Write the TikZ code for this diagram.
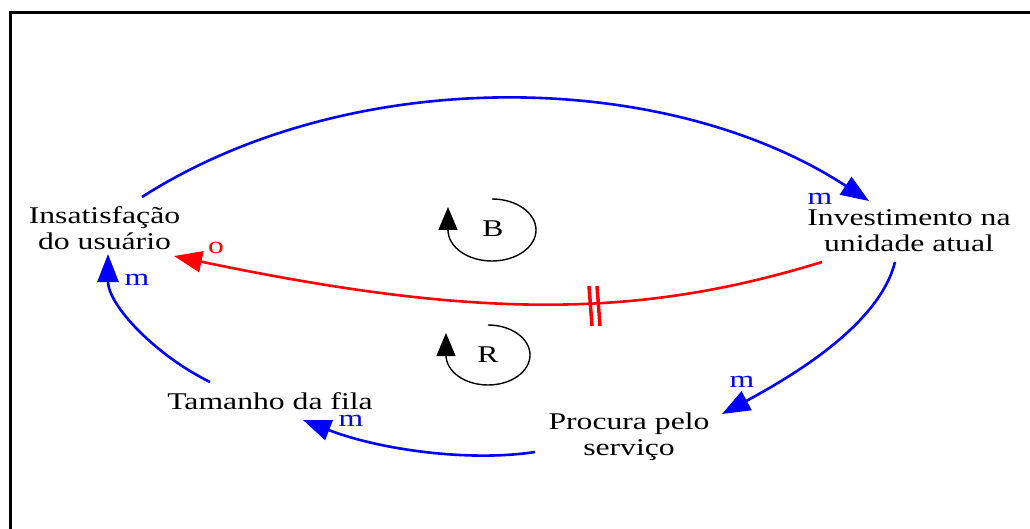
\documentclass[tikz,border=0pt]{standalone}
\usepackage{fontspec}
\newfontfamily\wide[FakeStretch=1.32]{Liberation Serif}
\usetikzlibrary{arrows.meta}
\definecolor{cldblue}{RGB}{0,0,255}
\definecolor{cldred}{RGB}{255,0,0}
\begin{document}
\begin{tikzpicture}[x=1pt,y=-1pt,
  var/.style={align=center,inner sep=0pt,anchor=base,font=\wide\fontsize{24}{26}\selectfont},
  pol/.style={inner sep=0pt,font=\wide\fontsize{24}{26}\selectfont},
  link/.style={line width=2.6pt,-{Triangle[length=28pt,width=21pt]}},
  loopline/.style={line width=1.4pt},
  looptip/.style={-{Triangle[length=23pt,width=19pt]},line width=1.4pt}]
\useasboundingbox (0,0) rectangle (1030,529);
% frame
\draw[line width=3pt] (10,540) -- (10,13) -- (1040,13);
% variables
\node[var] (a) at (104.5,250) {Insatisfação\\do usuário};
\node[var] (b) at (909,252) {Investimento na\\unidade atual};
\node[var] (c) at (629,455) {Procura pelo\\serviço};
\node[var] (d) at (270,409) {Tamanho da fila};
% endpoints
\coordinate (a1) at (142,197);
\coordinate (b1) at (869,201);
\coordinate (b2) at (822,262);
\coordinate (a2) at (174,256);
\coordinate (b3) at (895,262);
\coordinate (c1) at (722,414);
\coordinate (c2) at (535,452);
\coordinate (d1) at (303,420);
\coordinate (d2) at (210,382);
\coordinate (a3) at (108,254);
% links
\draw[link,cldblue] (a1) .. controls (350,64) and (665,68) .. (b1);
\draw[link,cldred] (b2) .. controls (640,318) and (480,320) .. (a2);
\draw[link,cldblue] (b3) .. controls (880,322) and (800,372) .. (c1);
\draw[link,cldblue] (c2) .. controls (470,462) and (380,450) .. (d1);
\draw[link,cldblue] (d2) .. controls (155,355) and (108,305) .. (a3);
% delay mark
\draw[cldred,line width=3.5pt] (589,286) -- (592,326);
\draw[cldred,line width=3.5pt] (597,286) -- (600,326);
% polarities
\node[pol,text=cldblue] (p1) at (820,199) {m};
\node[pol,text=cldred] (p2) at (216,248) {o};
\node[pol,text=cldblue] (p3) at (742,382) {m};
\node[pol,text=cldblue] (p4) at (351,421) {m};
\node[pol,text=cldblue] (p5) at (137,280) {m};
% loop markers
\node[pol] (lb) at (493,229) {B};
\draw[loopline] (492,199) arc[start angle=-90,end angle=180,x radius=44,y radius=31];
\draw[looptip] (448,230) -- (448,207);
\node[pol] (lr) at (488,355) {R};
\draw[loopline] (488,325) arc[start angle=-90,end angle=180,x radius=42,y radius=30];
\draw[looptip] (446,355) -- (446,333);
\end{tikzpicture}
\end{document}
